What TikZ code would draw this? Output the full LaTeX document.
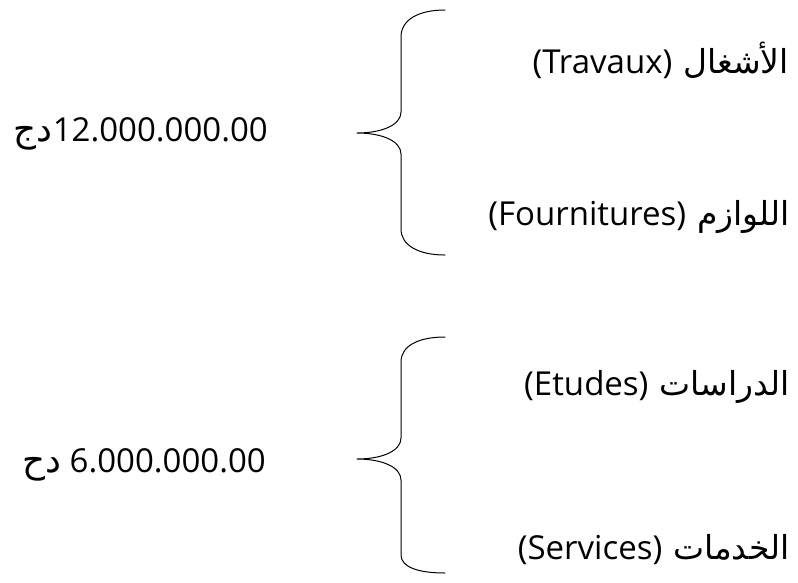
\documentclass[tikz,border=0pt]{standalone}
\usepackage{fontspec}
\setmainfont{Open Sans}
\newfontfamily\arabicfont[Script=Arabic,Scale=1.0]{DejaVu Sans}
\newfontfamily\arabicamt[Script=Arabic,Scale=1.08]{DejaVu Sans}
\TeXXeTstate=1
\begin{document}
\begin{tikzpicture}[x=1pt,y=-1pt,
  lbl/.style={inner sep=0pt, anchor=east, font=\fontsize{33}{39}\selectfont},
  brace/.style={line width=1pt, line cap=round, line join=round}]
\useasboundingbox (0,0) rectangle (798,582);
% amounts
\node[lbl] (m1) at (268,134) {{\arabicamt\beginR دج\endR}12.000.000.00};
\node[lbl] (m2) at (266,465) {{\arabicamt\beginR دح\endR} 6.000.000.00};
% items
\node[lbl] (t1) at (789,60) {(Travaux)\hspace{0.33em}{\arabicfont\beginR الأشغال\endR}};
\node[lbl] (t2) at (790,217) {(Fournitures)\hspace{0.33em}{\arabicfont\beginR اللوازم\endR}};
\node[lbl] (t3) at (790,387) {(Etudes)\hspace{0.33em}{\arabicfont\beginR الدراسات\endR}};
\node[lbl] (t4) at (790,550) {(Services)\hspace{0.33em}{\arabicfont\beginR الخدمات\endR}};
% braces
\coordinate (b1) at (357,133);
\coordinate (b2) at (357,459);
\draw[brace] (445,10) .. controls (418,10) and (401,20) .. (401,37) -- (401,112)
  .. controls (401,125) and (382,133) .. (b1)
  .. controls (382,133) and (401,141) .. (401,154) -- (401,229)
  .. controls (401,245) and (418,255) .. (445,255);
\draw[brace] (445,337) .. controls (418,337) and (401,346) .. (401,362) -- (401,438)
  .. controls (401,451) and (382,459) .. (b2)
  .. controls (382,459) and (401,467) .. (401,480) -- (401,555)
  .. controls (401,567) and (418,573) .. (445,573);
\end{tikzpicture}
\end{document}
